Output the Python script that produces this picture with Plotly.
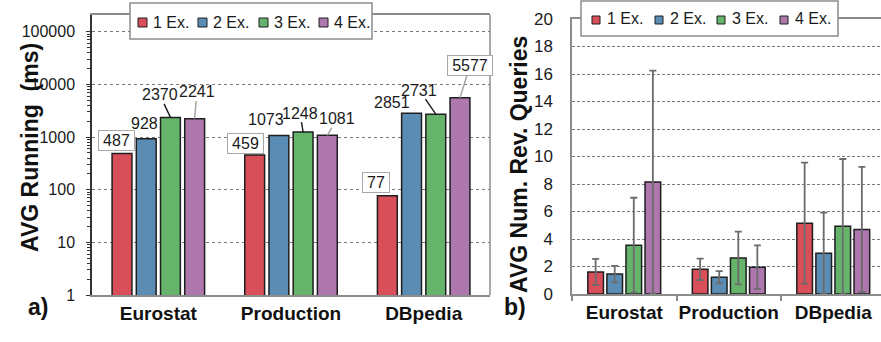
import numpy as np
import plotly.graph_objects as go

# ---------------- data ----------------
categories = ["Eurostat", "Production", "DBpedia"]
series_names = ["1 Ex.", "2 Ex.", "3 Ex.", "4 Ex."]

# a) average running time (ms), one list per series over categories
running_1ex = [487, 459, 77]
running_2ex = [928, 1073, 2851]
running_3ex = [2370, 1248, 2731]
running_4ex = [2241, 1081, 5577]

# b) average number of reverse-engineered queries (+/- error)
queries_1ex = [1.6, 1.8, 5.15]
queries_2ex = [1.45, 1.22, 2.97]
queries_3ex = [3.55, 2.62, 4.92]
queries_4ex = [8.15, 1.95, 4.7]
queries_1ex_err = [0.95, 0.78, 4.4]
queries_2ex_err = [0.6, 0.45, 2.95]
queries_3ex_err = [3.45, 1.92, 4.9]
queries_4ex_err = [8.1, 1.58, 4.55]

left_y_ticks = [1, 10, 100, 1000, 10000, 100000]
left_y_tick_labels = ["1", "10", "100", "1000", "10000", "100000"]
right_y_ticks = [0, 2, 4, 6, 8, 10, 12, 14, 16, 18, 20]
right_y_tick_labels = [str(v) for v in right_y_ticks]

running = [running_1ex, running_2ex, running_3ex, running_4ex]
queries = [queries_1ex, queries_2ex, queries_3ex, queries_4ex]
queries_err = [queries_1ex_err, queries_2ex_err, queries_3ex_err, queries_4ex_err]

# ---------------- style / layout ----------------
colors = ["#d84f5a", "#5b8db4", "#66b46c", "#ae77ae"]
FONT = "Liberation Sans, Arial, sans-serif"
W, H = 881, 342
BARGAP, GROUPGAP = 0.27, 0.18


def px(x):
    return x / W


def py(y):
    return 1 - y / H


L_X0, L_X1, L_Y0, L_Y1 = 92, 490, 15, 295
R_X0, R_X1, R_Y0, R_Y1 = 572, 881, 19, 294
R_RANGE = [-0.5, 2.457]

fig = go.Figure()
for i, name in enumerate(series_names):
    fig.add_trace(go.Bar(
        x=categories, y=running[i], name=name, xaxis="x", yaxis="y",
        marker=dict(color=colors[i], line=dict(color="#1e1e1e", width=1.5)),
        showlegend=False, hoverinfo="skip"))
for i, name in enumerate(series_names):
    fig.add_trace(go.Bar(
        x=categories, y=queries[i], name=name, xaxis="x2", yaxis="y2",
        marker=dict(color=colors[i], line=dict(color="#1e1e1e", width=1.5)),
        error_y=dict(type="data", array=queries_err[i], color="#6b6b6b",
                     thickness=1.8, width=3.5),
        showlegend=False, hoverinfo="skip"))

minor_vals = [m * 10 ** d for d in range(5) for m in range(2, 10)]

axis_font = dict(family=FONT, size=16, color="#1a1a1a")
cat_font = dict(family=FONT, size=19, color="#111", weight="bold")

fig.update_layout(
    width=W, height=H, margin=dict(l=0, r=0, t=0, b=0, autoexpand=False),
    paper_bgcolor="white", plot_bgcolor="white",
    barmode="group", bargap=BARGAP, bargroupgap=GROUPGAP,
    font=dict(family=FONT, color="#1a1a1a"),
    xaxis=dict(domain=[px(L_X0), px(L_X1)], anchor="y", type="category",
               range=[-0.5, 2.5], showline=True, linecolor="#8c8c8c",
               linewidth=1.5, mirror=True, ticks="", tickfont=cat_font,
               tickangle=0, showgrid=False, fixedrange=True, automargin=False),
    yaxis=dict(domain=[py(L_Y1), py(L_Y0)], anchor="x", type="log",
               range=[0, 5.32], tickmode="array", tickvals=left_y_ticks,
               ticktext=left_y_tick_labels, tickfont=axis_font,
               ticks="outside", ticklen=4, tickcolor="#333", tickwidth=1,
               showline=True, linecolor="#333", linewidth=1.5,
               showgrid=True, gridcolor="#7a7a7a", gridwidth=1.2,
               griddash="3px,3px", zeroline=False,
               minor=dict(tickmode="array", tickvals=minor_vals,
                          ticks="outside", ticklen=3, tickcolor="#333",
                          tickwidth=1, showgrid=False),
               ticklabelstandoff=8, fixedrange=True, automargin=False),
    xaxis2=dict(domain=[px(R_X0), px(R_X1)], anchor="y2", type="category",
                range=R_RANGE, showline=True, linecolor="#8c8c8c",
                linewidth=1.5, mirror=True, ticks="outside",
                tickson="boundaries", ticklen=5, tickcolor="#8c8c8c",
                tickwidth=1.5, tickfont=cat_font, tickangle=0, showgrid=False,
                fixedrange=True, automargin=False),
    yaxis2=dict(domain=[py(R_Y1), py(R_Y0)], anchor="x2", range=[0, 20],
                tickmode="array", tickvals=right_y_ticks,
                ticktext=right_y_tick_labels,
                tickfont=dict(family=FONT, size=17, color="#1a1a1a"),
                ticks="", showline=True, linecolor="#8c8c8c", linewidth=1.5,
                showgrid=True, gridcolor="#7a7a7a", gridwidth=1.2,
                griddash="3px,2px", zeroline=False,
                ticklabelstandoff=14, fixedrange=True, automargin=False),
)

shapes = []
annotations = []

# right border of left plot
shapes.append(dict(type="line", xref="paper", yref="paper",
                   x0=px(L_X1), x1=px(L_X1), y0=py(L_Y1), y1=py(L_Y0),
                   line=dict(color="#8c8c8c", width=1.5)))

# ---- data labels (chart a) ----
# per category, per series: (dx, dy) from bar top centre in px, boxed, leader colour
label_style = {
    ("Eurostat", 0): (-5.5, -12.6, True, None),
    ("Eurostat", 1): (-1.5, -15, False, None),
    ("Eurostat", 2): (-10.6, -22.5, False, "#1a1a1a"),
    ("Eurostat", 3): (2.2, -26.7, False, "#a0a0a0"),
    ("Production", 0): (-8.7, -11, True, None),
    ("Production", 1): (-12.9, -15.6, False, None),
    ("Production", 2): (-3.1, -19, False, "#1a1a1a"),
    ("Production", 3): (9.7, -16.4, False, "#a0a0a0"),
    ("DBpedia", 0): (-11.4, -12.8, True, None),
    ("DBpedia", 1): (-19.5, -11, False, None),
    ("DBpedia", 2): (-16.5, -24, False, "#1a1a1a"),
    ("DBpedia", 3): (10, -32, True, "#a0a0a0"),
}
cat_px_left = (L_X1 - L_X0) / 3.0
slot = (1 - BARGAP) / 4.0
label_font = dict(family=FONT, size=16, color="#1a1a1a")
for i in range(4):
    offset = (i - 1.5) * slot * cat_px_left
    for j, cat in enumerate(categories):
        v = running[i][j]
        dx, dy, boxed, lead = label_style[(cat, i)]
        txt = str(v)
        box = dict(bordercolor="#a8a8a8", borderwidth=1, bgcolor="white",
                   borderpad=1, width=len(txt) * 9 + 6) if boxed else dict(borderpad=0)
        if lead:
            annotations.append(dict(
                xref="x", yref="y", x=cat, y=np.log10(v), xshift=offset,
                text=txt, font=label_font, showarrow=True, arrowhead=0,
                arrowwidth=1.4, arrowcolor=lead, ax=dx, ay=dy, standoff=0,
                **box))
        else:
            annotations.append(dict(
                xref="x", yref="y", x=cat, y=np.log10(v),
                xshift=offset + dx, yshift=-dy, text=txt, font=label_font,
                showarrow=False, **box))

# ---- axis titles and panel letters ----
title_font = dict(family=FONT, size=23, color="#111", weight="bold")
annotations.append(dict(xref="paper", yref="paper", x=px(15), y=py(148),
                        text="AVG Running  (ms)", textangle=-90,
                        showarrow=False, font=title_font))
annotations.append(dict(xref="paper", yref="paper", x=px(519), y=py(165),
                        text="AVG Num. Rev. Queries", textangle=-90,
                        showarrow=False, font=title_font))
annotations.append(dict(xref="paper", yref="paper", x=px(26), y=py(322),
                        text="a)", showarrow=False, font=title_font))
annotations.append(dict(xref="paper", yref="paper", x=px(515), y=py(322),
                        text="b)", showarrow=False, font=title_font))

# ---- legends (drawn as boxes, swatches and text) ----
legend_font = dict(family=FONT, size=16, color="#1a1a1a")


def draw_legend(box, sq_x, sq_y, sq, text_dx, text_y):
    x0, y0, x1, y1 = box
    shapes.append(dict(type="rect", xref="paper", yref="paper", layer="above",
                       x0=px(x0), x1=px(x1), y0=py(y1), y1=py(y0),
                       fillcolor="white", line=dict(color="#8c8c8c", width=1.5)))
    for k, name in enumerate(series_names):
        sx = sq_x[k]
        shapes.append(dict(type="rect", xref="paper", yref="paper", layer="above",
                           x0=px(sx), x1=px(sx + sq), y0=py(sq_y + sq / 2),
                           y1=py(sq_y - sq / 2), fillcolor=colors[k],
                           line=dict(color="#1e1e1e", width=1)))
        annotations.append(dict(xref="paper", yref="paper", x=px(sx + text_dx),
                                y=py(text_y), xanchor="left", yanchor="middle",
                                text=name, showarrow=False, font=legend_font))


draw_legend((130, 3, 372, 39), [138, 198, 259, 319], 22.5, 9, 13, 22)
draw_legend((581, 1, 838, 36), [592, 655, 717, 780], 20, 8, 13, 18.5)

fig.update_layout(shapes=shapes, annotations=annotations)
fig.write_html("out.html", config={"displayModeBar": False},
               post_script="document.body.style.margin='0px';"
                           "document.body.style.overflow='hidden';")
